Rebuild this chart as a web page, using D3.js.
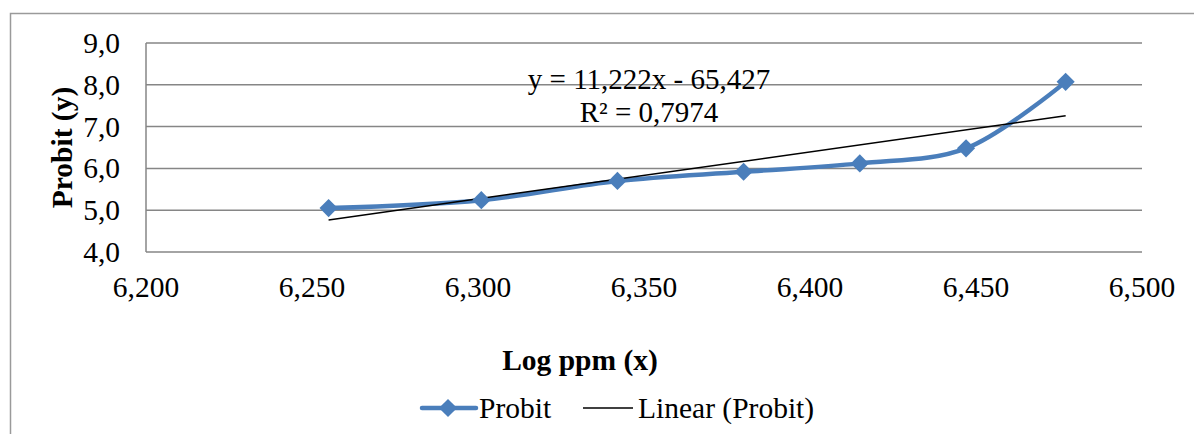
<!DOCTYPE html>
<html>
<head>
<meta charset="utf-8">
<script src="https://cdn.jsdelivr.net/npm/d3@7"></script>
<style>
  body { margin: 0; background: #fff; }
  svg { display: block; font-family: "Liberation Serif", "Times New Roman", serif; }
</style>
</head>
<body>
<svg id="chart" width="1194" height="434"></svg>
<script>
// data
var logPpm = [6.255, 6.301, 6.342, 6.380, 6.415, 6.447, 6.477];
var probit = [5.05, 5.24, 5.70, 5.92, 6.12, 6.48, 8.07];
var xTicks = [6.2, 6.25, 6.3, 6.35, 6.4, 6.45, 6.5];
var yTicks = [4, 5, 6, 7, 8, 9];
var trendCoef = [11.222, -65.427];   // slope, intercept
var trendR2 = [0.7974];

var svg = d3.select('#chart');
var blue = '#4a7ebb';
var fs = 29.5;

var loc = d3.formatLocale({ decimal: ',', thousands: '.', grouping: [3], currency: ['', ''] });
var fx = loc.format('.3f');
var fy = loc.format('.1f');

var x = d3.scaleLinear().domain([6.2, 6.5]).range([146, 1142]);
var y = d3.scaleLinear().domain([4, 9]).range([252, 43]);

// outer chart frame (cut by the picture on the right and bottom)
svg.append('path')
  .attr('d', 'M 10.5 440 L 10.5 13.5 L 1200 13.5')
  .attr('fill', 'none')
  .attr('stroke', '#9a9a9a')
  .attr('stroke-width', 1.5);

// horizontal gridlines
svg.append('g').selectAll('line')
  .data(yTicks)
  .enter()
  .append('line')
  .attr('x1', x(6.2)).attr('x2', x(6.5))
  .attr('y1', function (d) { return y(d); })
  .attr('y2', function (d) { return y(d); })
  .attr('stroke', '#868686')
  .attr('stroke-width', 1.5);

// y axis line
svg.append('line')
  .attr('x1', x(6.2)).attr('x2', x(6.2))
  .attr('y1', y(9)).attr('y2', y(4))
  .attr('stroke', '#868686')
  .attr('stroke-width', 1.5);

// tick labels
svg.append('g').selectAll('text')
  .data(yTicks)
  .enter()
  .append('text')
  .attr('x', 120)
  .attr('y', function (d) { return y(d) + 10; })
  .attr('text-anchor', 'end')
  .style('font-size', fs + 'px')
  .text(fy);

svg.append('g').selectAll('text')
  .data(xTicks)
  .enter()
  .append('text')
  .attr('x', function (d) { return x(d); })
  .attr('y', 297)
  .attr('text-anchor', 'middle')
  .style('font-size', fs + 'px')
  .text(fx);

// axis titles
svg.append('text')
  .attr('transform', 'translate(72,' + ((y(4) + y(9)) / 2) + ') rotate(-90)')
  .attr('text-anchor', 'middle')
  .style('font-size', fs + 'px')
  .style('font-weight', 'bold')
  .text('Probit (y)');

svg.append('text')
  .attr('x', 580)
  .attr('y', 370)
  .attr('text-anchor', 'middle')
  .style('font-size', fs + 'px')
  .style('font-weight', 'bold')
  .text('Log ppm (x)');

// smoothed data line
var pts = logPpm.map(function (v, i) { return [v, probit[i]]; });

svg.append('path')
  .datum(pts)
  .attr('fill', 'none')
  .attr('stroke', blue)
  .attr('stroke-width', 4.5)
  .attr('stroke-linejoin', 'round')
  .attr('d', d3.line()
    .x(function (d) { return x(d[0]); })
    .y(function (d) { return y(d[1]); })
    .curve(d3.curveCatmullRom.alpha(0.5)));

// linear trend line
var xExt = d3.extent(logPpm);
svg.append('line')
  .attr('x1', x(xExt[0])).attr('y1', y(trendCoef[0] * xExt[0] + trendCoef[1]))
  .attr('x2', x(xExt[1])).attr('y2', y(trendCoef[0] * xExt[1] + trendCoef[1]))
  .attr('stroke', '#000')
  .attr('stroke-width', 1.5);

// diamond markers
var diamond = d3.symbol(d3.symbolSquare, 165);
svg.append('g').selectAll('path')
  .data(pts)
  .enter()
  .append('path')
  .attr('d', diamond)
  .attr('transform', function (d) { return 'translate(' + x(d[0]) + ',' + y(d[1]) + ') rotate(45)'; })
  .attr('fill', blue);

// trend equation label
var eq = svg.append('text')
  .attr('text-anchor', 'middle')
  .style('font-size', '29px');
eq.append('tspan')
  .attr('x', 649).attr('y', 89)
  .text('y = ' + loc.format('.3f')(trendCoef[0]) + 'x - ' + loc.format('.3f')(-trendCoef[1]));
eq.append('tspan')
  .attr('x', 649).attr('y', 122)
  .text('R² = ' + loc.format('.4f')(trendR2[0]));

// legend
var lg = svg.append('g');
lg.append('line')
  .attr('x1', 422).attr('x2', 476).attr('y1', 408).attr('y2', 408)
  .attr('stroke', blue).attr('stroke-width', 4.5).attr('stroke-linecap', 'round');
lg.append('path')
  .attr('d', diamond)
  .attr('transform', 'translate(448,408) rotate(45)')
  .attr('fill', blue);
lg.append('text')
  .attr('x', 479).attr('y', 418)
  .style('font-size', fs + 'px')
  .text('Probit');
lg.append('line')
  .attr('x1', 583).attr('x2', 633).attr('y1', 408).attr('y2', 408)
  .attr('stroke', '#000').attr('stroke-width', 1.5);
lg.append('text')
  .attr('x', 638).attr('y', 418)
  .style('font-size', fs + 'px')
  .text('Linear (Probit)');
</script>
</body>
</html>
